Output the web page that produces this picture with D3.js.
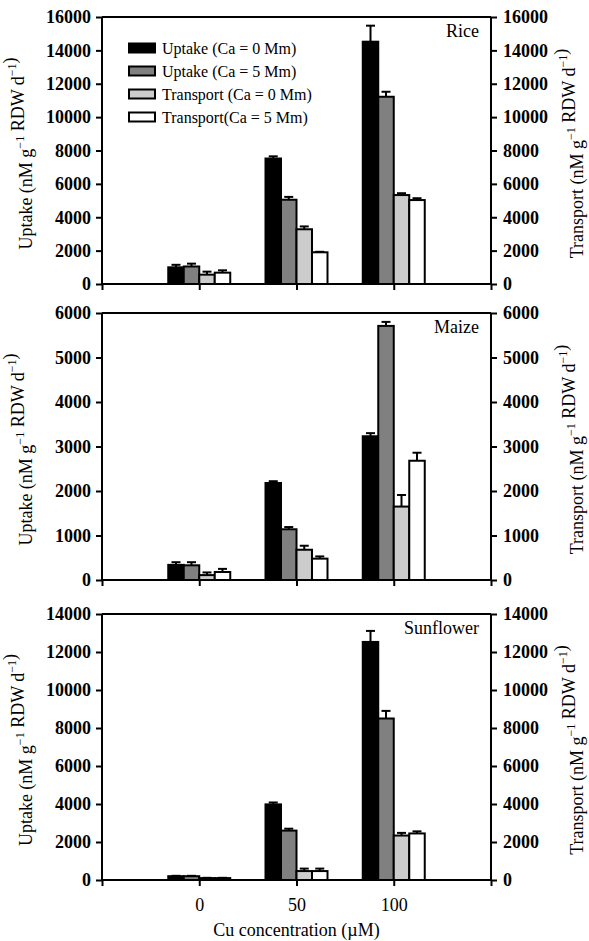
<!DOCTYPE html>
<html>
<head>
<meta charset="utf-8">
<script src="https://cdn.jsdelivr.net/npm/d3@7"></script>
<style>
  html, body { margin: 0; padding: 0; background: #fff; }
  svg { display: block; }
  text { font-family: "Liberation Serif", "Times New Roman", serif; fill: #000; }
</style>
</head>
<body>
<svg id="chart" width="589" height="941"></svg>
<script>
// Cu concentrations (µM) on the shared x axis
const doses = ["0", "50", "100"];

// Series, in bar order inside each dose group
const seriesNames = ["Uptake (Ca = 0 Mm)", "Uptake (Ca = 5 Mm)", "Transport (Ca = 0 Mm)", "Transport(Ca = 5 Mm)"];
const seriesFill = ["#000000", "#808080", "#cccccc", "#ffffff"];

// Means per dose (rows) and series (columns), nM g-1 RDW d-1
const riceValues = [
  [1000, 1050, 560, 680],
  [7520, 5050, 3280, 1900],
  [14520, 11220, 5330, 5030]
];
const riceErrors = [
  [150, 170, 180, 140],
  [130, 170, 170, 30],
  [960, 300, 110, 110]
];

const maizeValues = [
  [340, 330, 110, 180],
  [2180, 1140, 680, 480],
  [3230, 5710, 1650, 2680]
];
const maizeErrors = [
  [60, 70, 60, 70],
  [40, 50, 90, 50],
  [70, 90, 260, 180]
];

const sunflowerValues = [
  [200, 200, 100, 100],
  [3980, 2600, 470, 470],
  [12530, 8500, 2340, 2450]
];
const sunflowerErrors = [
  [20, 20, 15, 15],
  [100, 100, 130, 130],
  [580, 400, 140, 110]
];

// Tick values of each panel's value axes
const riceTicks = [0, 2000, 4000, 6000, 8000, 10000, 12000, 14000, 16000];
const maizeTicks = [0, 1000, 2000, 3000, 4000, 5000, 6000];
const sunflowerTicks = [0, 2000, 4000, 6000, 8000, 10000, 12000, 14000];

const panels = [
  { name: "Rice", values: riceValues, errors: riceErrors, ticks: riceTicks, top: 17, bottom: 284, legend: true },
  { name: "Maize", values: maizeValues, errors: maizeErrors, ticks: maizeTicks, top: 313, bottom: 580, legend: false },
  { name: "Sunflower", values: sunflowerValues, errors: sunflowerErrors, ticks: sunflowerTicks, top: 614, bottom: 880, legend: false }
];

const svg = d3.select("#chart");
const left = 102, right = 491;

// Dose groups sit at positions 0..2 on an axis running from -1 to 3
const x = d3.scaleLinear().domain([-1, doses.length]).range([left, right]);
const inner = d3.scaleBand().domain(d3.range(seriesNames.length)).range([-31, 31]).padding(0);
const xTickPositions = d3.range(-1, doses.length + 1);

function addSupText(sel, parts, baseSize, supSize) {
  parts.forEach(p => {
    if (p.sup) {
      sel.append("tspan").attr("dy", -8).attr("font-size", supSize).text(p.sup);
      sel.append("tspan").attr("dy", 8).attr("font-size", baseSize).text("");
    } else {
      sel.append("tspan").attr("font-size", baseSize).text(p.t);
    }
  });
}

panels.forEach(p => {
  const yMax = p.ticks[p.ticks.length - 1];
  const y = d3.scaleLinear().domain([0, yMax]).range([p.bottom, p.top]);
  const g = svg.append("g");

  // bars and error bars
  p.values.forEach((row, di) => {
    const cx = x(di);
    row.forEach((v, si) => {
      const bx = cx + inner(si);
      const bw = inner.bandwidth();
      const e = p.errors[di][si];
      // error bar (upper only)
      g.append("line")
        .attr("x1", bx + bw / 2).attr("x2", bx + bw / 2)
        .attr("y1", y(v)).attr("y2", y(v + e))
        .attr("stroke", "#000").attr("stroke-width", 2);
      g.append("line")
        .attr("x1", bx + bw / 2 - 4.5).attr("x2", bx + bw / 2 + 4.5)
        .attr("y1", y(v + e)).attr("y2", y(v + e))
        .attr("stroke", "#000").attr("stroke-width", 2);
      g.append("rect")
        .attr("x", bx).attr("y", y(v))
        .attr("width", bw).attr("height", p.bottom - y(v))
        .attr("fill", seriesFill[si])
        .attr("stroke", "#000").attr("stroke-width", 2);
    });
  });

  // frame top line
  g.append("line").attr("x1", left).attr("x2", right)
    .attr("y1", p.top).attr("y2", p.top)
    .attr("stroke", "#000").attr("stroke-width", 2);

  // left value axis
  const yl = g.append("g").attr("transform", `translate(${left},0)`)
    .call(d3.axisLeft(y).tickValues(p.ticks).tickSize(6).tickPadding(5).tickFormat(d3.format("d")));
  // right value axis (same units)
  const yr = g.append("g").attr("transform", `translate(${right},0)`)
    .call(d3.axisRight(y).tickValues(p.ticks).tickSize(6).tickPadding(6).tickFormat(d3.format("d")));
  // bottom category axis
  const xa = g.append("g").attr("transform", `translate(0,${p.bottom})`)
    .call(d3.axisBottom(x).tickValues(xTickPositions).tickSize(6)
      .tickFormat(i => (p.name === "Sunflower" && i >= 0 && i < doses.length) ? doses[i] : ""));

  [yl, yr, xa].forEach(a => {
    a.select(".domain").attr("stroke-width", 2);
    a.selectAll(".tick line").attr("stroke-width", 2);
    a.selectAll("text").attr("font-size", 18).attr("font-weight", "bold")
      .style("font-family", "'Liberation Serif', 'Times New Roman', serif");
  });
  xa.selectAll("text").attr("font-weight", "normal").attr("dy", "1.2em");
  yl.select(".domain").attr("d", `M-0,${p.bottom}V${p.top}`);
  yr.select(".domain").attr("d", `M0,${p.bottom}V${p.top}`);
  xa.select(".domain").attr("d", `M${left},0H${right}`);

  // panel label
  g.append("text").attr("x", 479).attr("y", p.top + 20)
    .attr("text-anchor", "end").attr("font-size", 18).text(p.name);

  const midY = (p.top + p.bottom) / 2 + 3;
  // left axis title
  const lt = g.append("text")
    .attr("transform", `translate(32,${midY}) rotate(-90)`)
    .attr("text-anchor", "middle");
  addSupText(lt, [{ t: "Uptake (nM g" }, { sup: "−1" }, { t: " RDW d" }, { sup: "−1" }, { t: ")" }], 18, 12);
  // right axis title
  const rt = g.append("text")
    .attr("transform", `translate(583,${midY}) rotate(-90)`)
    .attr("text-anchor", "middle");
  addSupText(rt, [{ t: "Transport (nM g" }, { sup: "−1" }, { t: " RDW d" }, { sup: "−1" }, { t: ")" }], 18, 12);

  // legend
  if (p.legend) {
    seriesNames.forEach((s, i) => {
      const cy = 48 + i * 23;
      g.append("rect").attr("x", 129).attr("y", cy - 4.5)
        .attr("width", 26).attr("height", 9)
        .attr("fill", seriesFill[i]).attr("stroke", "#000").attr("stroke-width", 2);
      g.append("text").attr("x", 162).attr("y", cy + 5.5)
        .attr("font-size", 16).text(s);
    });
  }
});

// x axis title
svg.append("text").attr("x", (left + right) / 2).attr("y", 936)
  .attr("text-anchor", "middle").attr("font-size", 18)
  .text("Cu concentration (µM)");
</script>
</body>
</html>
